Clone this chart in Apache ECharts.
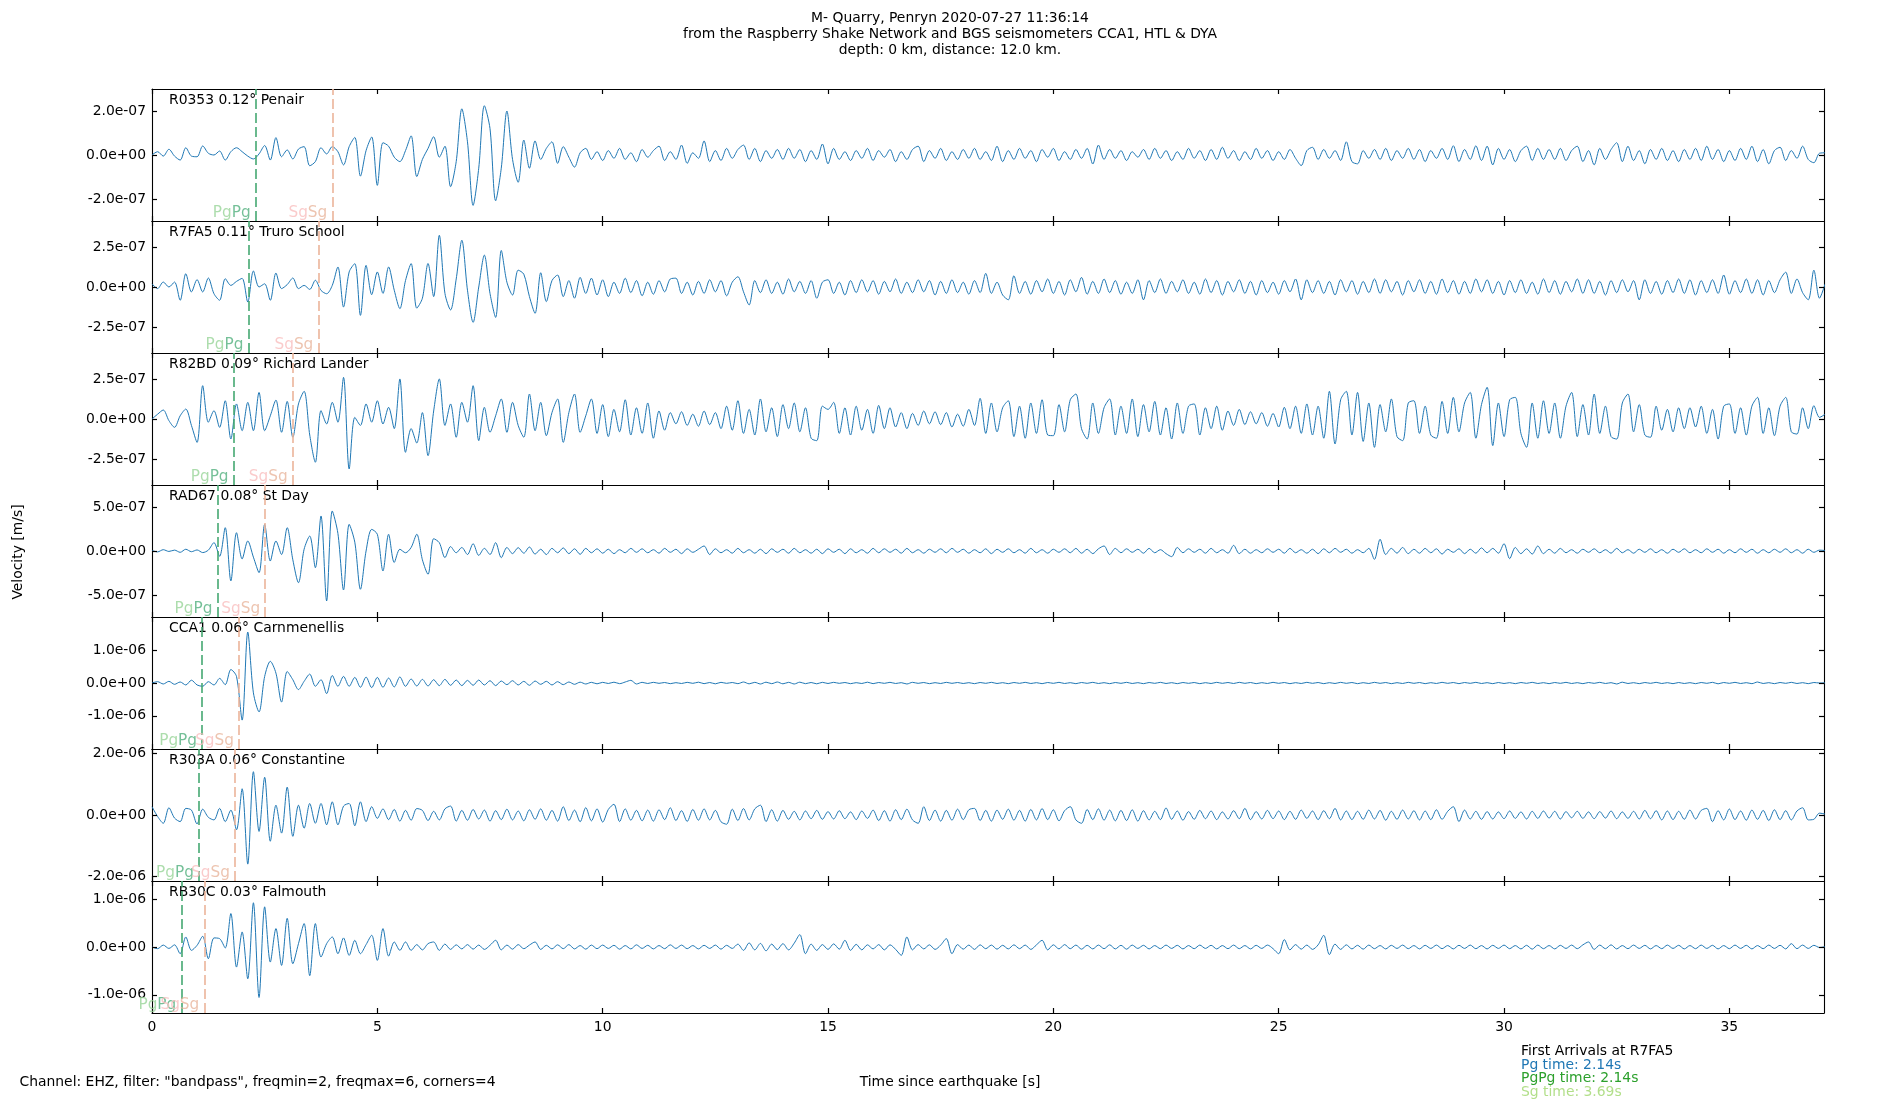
<!DOCTYPE html>
<html><head><meta charset="utf-8">
<script src="https://cdn.jsdelivr.net/npm/echarts@6/dist/echarts.min.js"></script>
<style>html,body{margin:0;padding:0;background:#fff}#c{width:1900px;height:1100px}</style>
</head><body><div id="c"></div>
<script>
const DT = 0.125;          // sample spacing of the traces [s]
const UNIT = 1e-9;         // trace values are in nm/s
const XMAX = 37.1;
const xTicks = [0, 5, 10, 15, 20, 25, 30, 35];
const stations = ['R0353 0.12° Penair', 'R7FA5 0.11° Truro School', 'R82BD 0.09° Richard Lander',
  'RAD67 0.08° St Day', 'CCA1 0.06° Carnmenellis', 'R303A 0.06° Constantine', 'RB30C 0.03° Falmouth'];
const pgTimes = [2.30, 2.14, 1.81, 1.45, 1.11, 1.04, 0.65];
const sgTimes = [4.00, 3.69, 3.12, 2.51, 1.93, 1.84, 1.16];
const yLimits = [3.0e-7, 4.12e-7, 4.12e-7, 7.5e-7, 2.01e-6, 2.15e-6, 1.38e-6];
const yTickSteps = [2e-7, 2.5e-7, 2.5e-7, 5e-7, 1e-6, 2e-6, 1e-6];
const titleLines = ['M- Quarry, Penryn 2020-07-27 11:36:14',
  'from the Raspberry Shake Network and BGS seismometers CCA1, HTL & DYA',
  'depth: 0 km, distance: 12.0 km.'];
const footerLeft = 'Channel: EHZ, filter: "bandpass", freqmin=2, freqmax=6, corners=4';
const xLabel = 'Time since earthquake [s]';
const yLabel = 'Velocity [m/s]';
const arrivalLines = ['First Arrivals at R7FA5', 'Pg time: 2.14s', 'PgPg time: 2.14s', 'Sg time: 3.69s'];

const traceR0353 = [
0,15,-5,26,-5,-23,33,-5, -8,41,8,0,18,-23,15,33, 15,-5,-18,5,43,-23,79,-8, 23,-18,27,38,-49,-30,33,5,
38,15,-45,38,80,-96,20,82, -138,56,40,-10,-30,20,87,-98, -20,30,83,-10,40,-144,-30,210, 60,-229,-60,224,120,-208,-60,200,
-20,-124,68,-60,64,-20,30,60, -38,38,-10,-55,10,30,-20,15, -25,20,-15,30,-20,10,-30,25, -10,20,40,-25,15,-20,45,-38,
10,-15,64,-30,20,-25,30,-15, 25,45,-20,30,-30,20,-15,25, -20,30,-15,25,-30,20,-20,50, -40,30,-20,15,-25,20,-15,30,
-25,20,-10,25,-30,15,-20,25, 40,-30,20,-15,30,-25,15,-20, 25,-15,30,-20,15,-25,40,-30, 20,-20,30,-15,20,-30,25,-10,
30,-25,15,-20,25,-15,30,-41, 45,-20,25,-15,20,-25,15,-10, 25,-20,30,-15,20,-25,15,-20, 30,-15,20,-25,25,-20,35,-15,
20,-25,15,-20,30,-15,20,-25, 15,-20,25,-15,-48,20,35,-20, 25,-15,20,-25,60,-30,-40,20, -15,25,-20,30,-25,20,-15,30,
-20,25,-30,20,-15,30,-20,42, -30,25,-20,42,-25,40,-45,30, -20,25,-30,20,40,-25,30,-20, 25,-20,30,-25,20,40,-30,20,
-45,30,-20,25,56,-30,40,-25, 20,-40,25,-20,30,-25,20,-30, 25,-20,30,-25,40,-20,25,-30, 20,-25,30,-20,40,-30,25,-40,
20,35,-25,20,-15,40,-20,-35, 8, 10];

const traceR7FA5 = [
20,-10,31,0,31,-83,83,-31, 46,-31,56,-42,-83,52,10,35, 54,-94,100,0,20,-83,87,-10, 15,56,-10,10,-15,42,-21,-42,
10,125,-125,94,146,-177,135,-48, 94,-40,125,-20,-135,40,146,-132, -70,147,-60,323,-40,-143,50,292, -20,-221,0,199,-40,-190,228,30,
-50,105,80,-60,-164,89,-91,40, 75,-60,40,-70,60,-40,55,-50, 45,-60,30,-40,55,-35,40,-55, 30,-45,40,-30,50,55,-40,30,
-50,35,-40,45,-30,40,-55,30, 64,-30,-112,40,-35,45,-40,30, -45,50,-30,35,-40,40,-70,30, 45,-40,30,-50,40,-35,45,-30,
40,-45,35,-30,50,-40,30,-35, 45,-30,40,-50,35,-40,45,-35, 30,-45,40,-35,85,-40,30,-50, -80,70,-40,35,-45,40,-30,50,
-40,35,-50,45,-30,60,-45,35, -40,50,-35,40,-45,30,-40,45, -80,40,-35,50,-40,35,-30,45, -40,30,-45,50,-35,40,-50,35,
-30,45,-40,35,-50,40,-35,30, -45,40,-30,50,-80,45,-35,40, -40,35,-50,45,-30,40,-45,35, -35,50,-40,45,-30,35,-50,40,
-30,45,-40,35,-45,50,-35,40, -45,35,-40,50,-30,45,-40,35, -50,40,-35,45,-40,30,-45,50, -35,40,-45,35,-30,50,-40,45,
-40,35,-50,40,-35,45,-30,40, -80,45,-40,35,-45,40,-35,50, -40,45,-50,40,-35,45,-40,75, -45,40,-35,50,-40,45,-50,40,
-35,45,93,-40,50,-35,-80,105, -70, 20];

const traceR82BD = [
0,30,56,-10,-52,20,62,-40, -146,208,-20,52,-52,114,-125,94, -73,104,-73,166,-73,20,118,-83, 110,-114,94,173,-100,-270,52,-31,
104,-20,260,-312,10,-40,94,-20, 114,-31,73,-60,250,-208,-60,-150, 40,-229,50,250,-40,94,-114,104, -20,208,-135,73,-83,20,125,-83,
104,-40,-114,156,-73,104,-104,40, 125,-146,40,156,-83,20,125,-90, 90,-110,60,-80,120,-100,70,-90, 100,-120,50,-70,40,-30,45,-40,
30,-45,50,-35,40,-60,80,-70, 114,-90,60,-100,125,-80,70,-110, 90,-60,100,-80,70,-120,-135,80, 60,104,-90,70,-100,80,-70,60,
-90,85,-60,70,-50,40,-60,35, -40,50,-30,45,-35,40,-50,30, -45,60,-40,129,-90,100,-80,70, 114,-110,80,-120,100,-90,120,-100,
-104,90,-80,120,156,-60,-125,100, -90,70,125,-100,80,-90,125,-110, 90,-80,110,-100,70,-125,100,-90, 80,94,-100,70,-60,80,-70,50,
-40,60,-35,45,-30,40,-45,35, -50,73,-60,80,-90,94,-100,80, -120,173,-156,120,173,-100,166,-140, 100,-177,90,-80,125,-110,-135,100,
114,-90,80,-100,-120,110,-90,135, -80,100,166,-120,90,198,-166,100, -110,120,135,-90,-177,100,-120,114, -90,100,-120,80,166,-110,90,-100,
156,-90,80,-110,-125,100,156,-80, 90,-100,-114,80,-70,60,-80,70, -60,70,-50,80,-90,60,-125,80, 94,-90,70,-100,80,135,-90,70,
-104,80,135,-80,-94,70,-60,83, 10, 30];

const traceRAD67 = [
5,-10,15,-5,10,-15,20,-8, 12,-18,10,95,-60,265,-340,208, -90,114,-70,-246,303,-114,114,-40, 265,-100,-360,20,170,-190,398,-568,
455,200,-443,303,100,-435,0,246, 190,-227,190,-130,20,-20,40,190, -100,-265,140,95,-75,50,-20,40, -40,83,-50,30,-40,95,-76,40,
-30,38,-25,45,-35,20,-40,30, -20,35,-30,25,-38,30,-20,25, -25,20,-30,15,-20,30,-15,25, -20,15,-25,30,-15,20,-30,25,
-15,20,57,-40,25,-20,15,-25, 30,-20,15,-25,20,-30,25,-15, 20,-25,30,-20,15,-25,20,-30, 25,-15,20,-30,25,-20,15,-25,
30,-20,25,-15,20,-25,30,-20, 15,-25,20,-15,25,-20,30,-15, 20,-25,15,-20,25,-30,20,-15, 25,-20,15,-25,30,-20,15,-25,
20,-15,25,-20,30,-25,20,-30, 25,57,-40,30,-20,25,-15,20, -25,30,-20,15,-30,-64,40,-20, 25,-15,20,-25,30,-20,15,-25,
64,-30,20,-25,15,-20,25,-15, 20,-25,30,-20,15,-25,20,-30, 25,-20,30,-15,20,-25,15,-20, 30,-95,133,-40,30,-25,40,-30,
20,-25,30,-20,25,-35,20,-15, 25,-30,20,-25,35,-20,30,-25, 83,-87,40,-30,25,-35,57,-30, 20,-25,30,-20,15,-25,20,-15,
25,-20,15,-25,30,-20,15,-25, 20,-15,25,-20,15,-25,20,-15, 25,-20,15,-20,25,-15,20,-25, 15,-20,25,-15,20,-25,15,-20,
20,-15,25,-20,15,-25,20,-15, 10, 5];

const traceCCA1 = [
0,40,-30,50,-40,30,-60,85, -60,-100,40,-60,140,-50,410,200, -1130,1550,-300,-880,200,660,300,-580, 350,100,-200,50,270,-100,100,-325,
230,-100,200,-100,170,-130,180,-140, 170,-130,150,-120,185,-100,120,-90, 110,-90,100,-80,110,-70,90,-80, 80,-70,90,-60,70,-80,60,-50,
70,-60,50,-70,60,-40,50,-60, 40,-50,30,-40,25,-30,20,-25, 20,-15,25,-20,30,80,-30,20, -15,20,-10,15,-20,10,-15,20,
-10,25,-20,15,-25,20,-10,15, -20,30,-25,20,-30,25,-20,30, -25,20,-30,25,-20,15,-25,20, -15,20,-10,15,-20,10,-15,25,
-20,15,-10,20,-15,10,-30,20, -10,15,-20,10,-15,20,-10,15, -15,10,-20,15,-10,20,-15,10, -20,15,-10,20,-15,10,-20,15,
-10,20,-15,10,-20,15,-10,20, -15,10,-20,15,-10,20,-15,10, -20,15,-10,20,-15,10,-20,15, -10,15,-20,10,-15,20,-10,15,
-15,20,-10,15,-20,10,-15,20, -10,15,-20,10,-15,20,-10,15, -20,10,-15,20,-10,15,-20,10, -15,20,-10,15,-20,10,-15,20,
-10,15,-20,10,-15,20,-10,15, -20,15,-10,20,-15,10,-20,15, -15,10,-20,15,-10,20,-15,10, -20,15,-10,20,-15,10,-20,15,
-10,20,-15,10,-30,25,-15,10, -20,15,-10,20,-15,10,-20,15, -15,10,-20,15,-10,20,-25,15, -10,20,-15,10,-20,30,-15,10,
-20,15,-10,20,-15,10,-20,15, 0, 5];

const traceR303A = [
270,-50,-270,235,-100,-215,215,160, -290,190,-75,-160,215,-215,160,-480, 855,-1600,1410,-535,1230,-855,320,-590, 910,-695,320,-430,375,-270,375,-320,
430,-320,290,375,-350,430,-215,270, -110,200,-150,180,-200,150,-170,210, 150,-180,120,-160,200,290,-200,150, -170,180,-130,160,-200,140,-150,190,
-160,130,-190,170,-140,200,-170,150, -200,270,-180,160,-220,240,-190,200, -230,180,350,-215,200,-170,150,-190, 160,-200,170,-150,235,-180,140,-210,
180,-170,200,-160,150,-220,-300,190, -180,210,-160,200,320,-215,170,-200, 150,-140,120,-160,130,-120,150,-140, 110,-130,140,-120,100,-150,130,-110,
160,-180,140,-200,170,-150,190,-160, -270,270,-180,160,-200,150,-170,190, -150,170,215,-180,150,-200,160,-140, 190,-170,150,-200,180,-160,210,-150,
170,-190,140,270,-160,-270,180,-150, 200,-170,160,-190,150,-180,170,-200, 140,-160,120,-150,230,-140,130,-170, 110,-140,150,-120,130,-150,100,-130,
140,-120,215,-150,110,-130,150,-120, 130,-150,120,-140,160,-110,130,-150, 140,-120,215,-160,130,-150,120,-140, 160,-130,150,-170,120,-140,160,-130,
140,-160,130,-150,170,-140,120,270, -215,160,-130,120,-140,110,-130,100, -120,130,-110,100,-130,120,-110,130, -100,120,-130,110,-90,120,-110,100,
-120,110,-100,130,-120,100,-110,120, -130,150,-120,140,-160,130,-150,120, -140,160,-130,150,215,-215,140,-160, 195,-150,130,-170,160,-140,150,-180,
170,-150,140,-160,130,235,-160,-140, 60, 30];

const traceRB30C = [
0,-35,40,-30,45,-140,210,-70, 35,225,-245,190,175,-20,700,-420, 315,-665,925,-1055,840,-315,385,-385, 600,-350,70,490,-600,490,-210,70,
210,-140,190,-175,140,-140,50,245, -280,385,-190,105,-70,105,-70,50, -60,70,105,-70,60,-50,45,-40, 50,-45,40,-50,35,140,-60,40,
-45,50,-35,40,105,-50,35,-40, 45,-35,50,-40,30,-45,40,-35, 40,-30,35,-45,30,-40,45,-30, 35,-40,30,-35,45,-30,40,-35,
30,-40,35,-30,40,-45,35,-30, 60,-70,85,-60,75,-80,60,-55, 70,-60,80,260,-140,60,-70,50, -50,65,-45,140,-70,55,-60,45,
-40,50,-60,45,-50,-175,210,-60, 50,-40,45,-50,40,175,-140,50, -45,40,-50,45,-35,40,-45,35, -40,45,-35,40,-50,45,140,-60,
45,-40,50,-35,40,-45,35,-40, 40,-35,45,-40,35,-45,40,-30, 35,-40,30,-35,40,-30,35,-40, 30,-35,40,-30,35,-40,30,-35,
40,-35,30,-40,35,-30,40,-35, -140,155,-60,50,-45,40,-50,45, 245,-160,60,-50,45,-40,35,-45, 40,-35,30,-40,35,-30,40,-35,
30,-40,35,-30,40,-35,30,-40, 35,-30,40,-35,30,-40,35,-30, 40,-35,30,-40,35,-45,40,-35, 30,-40,35,-30,40,-35,45,105,
-50,40,-35,45,-40,30,-35,40, -30,35,-40,30,-35,40,-30,35, -40,30,-35,40,-30,35,-40,30, -35,40,-30,35,-40,30,-35,40,
-30,35,-40,70,-35,40,-30,35, -10, 5];

const traces = [traceR0353, traceR7FA5, traceR82BD, traceRAD67, traceCCA1, traceR303A, traceRB30C];

// ---- layout / style ----
const W = 1900, LEFT = 152, RIGHT = 1824, TOP = 89, PANEL_H = 132;
const FONT = '"DejaVu Sans", sans-serif';
const FS = 13.9, FS_PHASE = 15.3;
const TICK_PX = 5;
const TRACE_COLOR = '#1f77b4';
const PG_LINE = '#45a872', SG_LINE = '#ebb49a';

function expFmt(v) {
  if (Math.abs(v) < 1e-20) return '0.0e+00';
  return v.toExponential(1).replace(/e([+-])(\d+)$/, (m, s, d) => 'e' + s + (d.length < 2 ? '0' + d : d));
}

const grids = [], xAxes = [], yAxes = [], series = [], graphics = [];
for (let i = 0; i < 7; i++) {
  const yl = yLimits[i], ts = yTickSteps[i];
  const yt = [-ts, 0, ts];
  grids.push({left: LEFT, top: TOP + i * PANEL_H, width: RIGHT - LEFT, height: PANEL_H, show: false, containLabel: false});
  const spine = {show: true, onZero: false, lineStyle: {color: '#000', width: 1.1}};
  xAxes.push({gridIndex: i, type: 'value', min: 0, max: XMAX, position: 'bottom',
    axisLine: spine, splitLine: {show: false}, axisTick: {show: false},
    axisLabel: {show: i === 6, customValues: xTicks, margin: 7, color: '#000', fontSize: FS, fontFamily: FONT}});
  xAxes.push({gridIndex: i, type: 'value', min: 0, max: XMAX, position: 'top',
    axisLine: spine, splitLine: {show: false}, axisTick: {show: false}, axisLabel: {show: false}});
  yAxes.push({gridIndex: i, type: 'value', min: -yl, max: yl, position: 'left',
    axisLine: spine, splitLine: {show: false}, axisTick: {show: false},
    axisLabel: {customValues: yt, formatter: expFmt, margin: 6, color: '#000', fontSize: FS, fontFamily: FONT}});
  yAxes.push({gridIndex: i, type: 'value', min: -yl, max: yl, position: 'right',
    axisLine: spine, splitLine: {show: false}, axisTick: {show: false}, axisLabel: {show: false}});

  // inward tick marks on all four sides, expressed in the panel's own data units
  const dy = TICK_PX / PANEL_H * 2 * yl;
  const dx = TICK_PX / (RIGHT - LEFT) * XMAX;
  const tickSegs = [];
  xTicks.forEach(t => {
    tickSegs.push([{coord: [t, -yl]}, {coord: [t, -yl + dy]}]);
    tickSegs.push([{coord: [t, yl]}, {coord: [t, yl - dy]}]);
  });
  yt.forEach(v => {
    tickSegs.push([{coord: [0, v]}, {coord: [dx, v]}]);
    tickSegs.push([{coord: [XMAX, v]}, {coord: [XMAX - dx, v]}]);
  });

  series.push({
    type: 'line', xAxisIndex: 2 * i, yAxisIndex: 2 * i,
    data: traces[i].map((v, k) => [k * DT, v * UNIT]),
    showSymbol: false, symbol: 'none', smooth: 0.3, sampling: 'none',
    lineStyle: {color: TRACE_COLOR, width: 1}, silent: true, z: 2,
    markLine: {silent: true, symbol: ['none', 'none'], label: {show: false}, animation: false,
      data: [
        {xAxis: pgTimes[i], lineStyle: {color: PG_LINE, type: [10, 4], width: 1.6}},
        {xAxis: sgTimes[i], lineStyle: {color: SG_LINE, type: [10, 4], width: 1.6}}
      ]}
  });
  series.push({
    type: 'line', xAxisIndex: 2 * i, yAxisIndex: 2 * i, data: [], silent: true, z: 6,
    markLine: {silent: true, symbol: ['none', 'none'], label: {show: false}, animation: false,
      lineStyle: {color: '#000', type: 'solid', width: 1.2}, data: tickSegs}
  });
  const rich = {
    a: {color: '#98d498', fontSize: FS_PHASE, fontFamily: FONT},
    b: {color: '#52b07e', fontSize: FS_PHASE, fontFamily: FONT},
    c: {color: '#f9bebe', fontSize: FS_PHASE, fontFamily: FONT},
    d: {color: '#e9b59c', fontSize: FS_PHASE, fontFamily: FONT}
  };
  series.push({
    type: 'scatter', xAxisIndex: 2 * i, yAxisIndex: 2 * i, symbolSize: 0, silent: true, clip: false, z: 5,
    data: [
      {value: [pgTimes[i], -yl], label: {formatter: '{a|Pg}{b|Pg}'}},
      {value: [sgTimes[i], -yl], label: {formatter: '{c|Sg}{d|Sg}'}}
    ],
    label: {show: true, position: 'left', distance: 5, offset: [0, -8], fontSize: FS_PHASE, fontFamily: FONT, rich: rich}
  });
  graphics.push({type: 'text', x: LEFT + 17, y: TOP + i * PANEL_H + 11,
    style: {text: stations[i], fill: '#000', fontSize: FS, fontFamily: FONT, align: 'left', verticalAlign: 'middle'}});
}

titleLines.forEach((t, k) => graphics.push({type: 'text', x: W / 2, y: 18 + 16 * k,
  style: {text: t, fill: '#000', fontSize: FS, fontFamily: FONT, align: 'center', verticalAlign: 'middle'}}));
graphics.push({type: 'text', x: 19.5, y: 1082,
  style: {text: footerLeft, fill: '#000', fontSize: FS, fontFamily: FONT, align: 'left', verticalAlign: 'middle'}});
graphics.push({type: 'text', x: W / 2, y: 1082,
  style: {text: xLabel, fill: '#000', fontSize: FS, fontFamily: FONT, align: 'center', verticalAlign: 'middle'}});
graphics.push({type: 'text', x: 18, y: 552, rotation: Math.PI / 2,
  style: {text: yLabel, fill: '#000', fontSize: FS, fontFamily: FONT, align: 'center', verticalAlign: 'middle'}});
const arrivalColors = ['#000000', '#1f77b4', '#2ca02c', '#b2df8a'];
arrivalLines.forEach((t, k) => graphics.push({type: 'text', x: 1521, y: 1051 + 13.9 * k,
  style: {text: t, fill: arrivalColors[k], fontSize: FS, fontFamily: FONT, align: 'left', verticalAlign: 'middle'}}));

const chart = echarts.init(document.getElementById('c'), null, {renderer: 'canvas'});
chart.setOption({
  animation: false, backgroundColor: '#fff',
  grid: grids, xAxis: xAxes, yAxis: yAxes, series: series, graphic: graphics
});
</script></body></html>
